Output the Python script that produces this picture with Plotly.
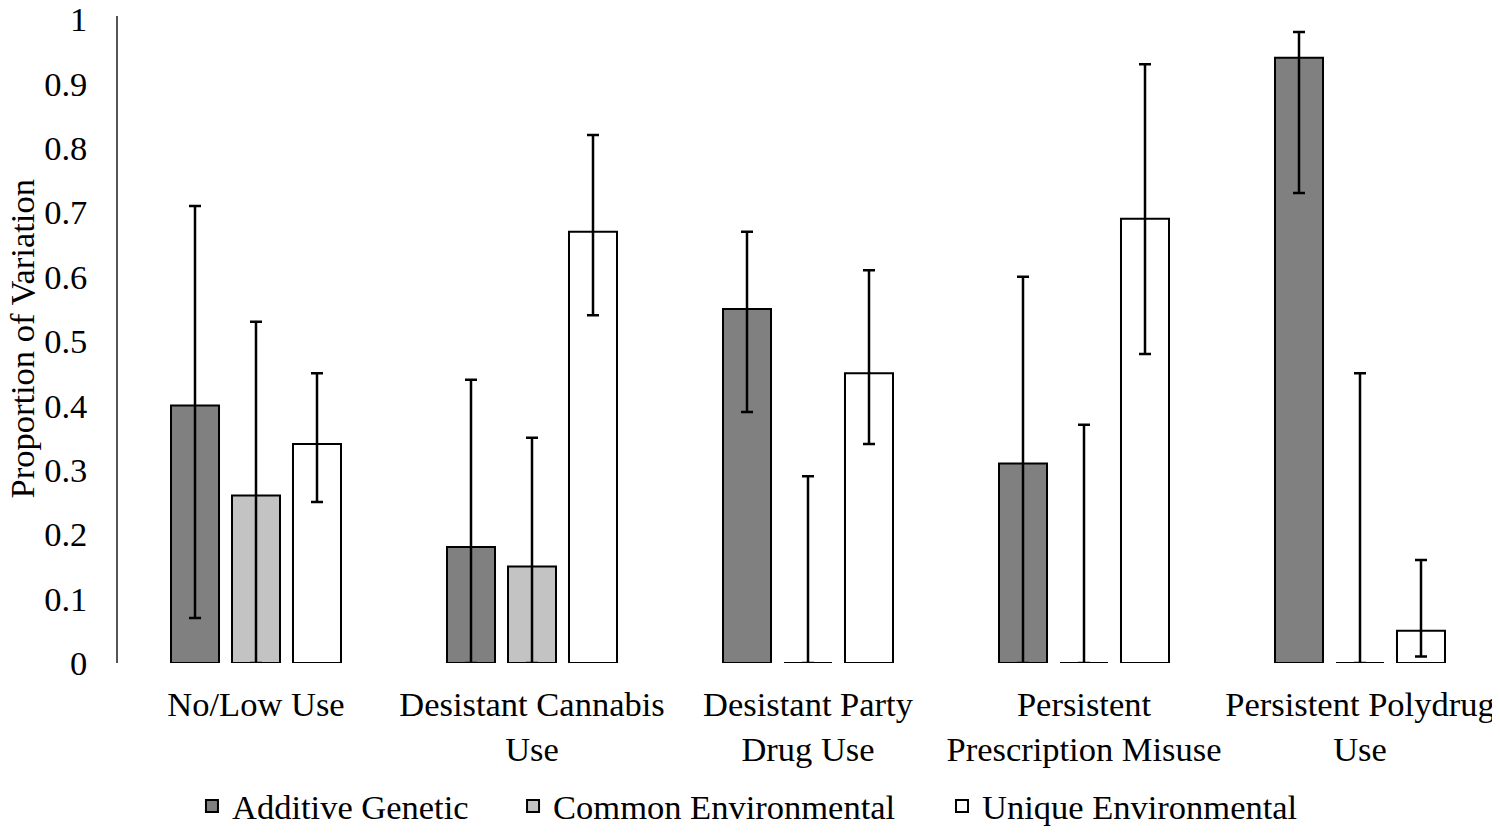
import plotly.graph_objects as go

categories = ["No/Low Use", "Desistant Cannabis<br>Use", "Desistant Party<br>Drug Use",
              "Persistent<br>Prescription Misuse", "Persistent Polydrug<br>Use"]
series_names = ["Additive Genetic", "Common Environmental", "Unique Environmental"]

additive = [0.40, 0.18, 0.55, 0.31, 0.94]
additive_lo = [0.07, 0.00, 0.39, 0.00, 0.73]
additive_hi = [0.71, 0.44, 0.67, 0.60, 0.98]

common = [0.26, 0.15, 0.00, 0.00, 0.00]
common_lo = [0.00, 0.00, 0.00, 0.00, 0.00]
common_hi = [0.53, 0.35, 0.29, 0.37, 0.45]

unique = [0.34, 0.67, 0.45, 0.69, 0.05]
unique_lo = [0.25, 0.54, 0.34, 0.48, 0.01]
unique_hi = [0.45, 0.82, 0.61, 0.93, 0.16]

y_ticks = [0, 0.1, 0.2, 0.3, 0.4, 0.5, 0.6, 0.7, 0.8, 0.9, 1]
y_tick_labels = ["0", "0.1", "0.2", "0.3", "0.4", "0.5", "0.6", "0.7", "0.8", "0.9", "1"]
y_title = "Proportion of Variation"

colors = ["#808080", "#c3c3c3", "#ffffff"]
legend_ids = ["legend", "legend2", "legend3"]
legend_x = [0.1233, 0.3385, 0.6260]
FONT = "Liberation Serif, Times New Roman, serif"
FS = 34.5

fig = go.Figure()
for name, vals, lo, hi, col, lid in zip(series_names,
                                        [additive, common, unique],
                                        [additive_lo, common_lo, unique_lo],
                                        [additive_hi, common_hi, unique_hi],
                                        colors, legend_ids):
    fig.add_trace(go.Bar(
        name=name, x=categories, y=vals, legend=lid,
        marker=dict(color=col, line=dict(color="black", width=2)),
        error_y=dict(type="data", symmetric=False,
                     array=[h - v for h, v in zip(hi, vals)],
                     arrayminus=[v - l for v, l in zip(vals, lo)],
                     color="black", thickness=2.5, width=6),
    ))

legend_common = dict(orientation="h", xref="container", yref="container",
                     y=0.0327, yanchor="middle", xanchor="left",
                     font=dict(size=FS, family=FONT), itemwidth=30, bgcolor="rgba(0,0,0,0)")

# page body has an 8px default margin, so the figure is 8px smaller than the window
fig.update_layout(
    width=1492, height=825,
    margin=dict(l=110, r=2, t=8, b=170),
    paper_bgcolor="white", plot_bgcolor="white",
    barmode="group", bargap=0.337, bargroupgap=0.213,
    font=dict(family=FONT, size=FS, color="black"),
    showlegend=True,
    legend=dict(x=legend_x[0], **legend_common),
    legend2=dict(x=legend_x[1], **legend_common),
    legend3=dict(x=legend_x[2], **legend_common),
    xaxis=dict(showline=False, showgrid=False, zeroline=False, automargin=False,
               ticks="outside", ticklen=11, tickcolor="rgba(0,0,0,0)",
               tickfont=dict(size=FS), ticklabeloverflow="allow"),
    yaxis=dict(range=[0, 1.005], tickvals=y_ticks, ticktext=y_tick_labels, automargin=False,
               showline=True, linecolor="#555555", linewidth=1.5,
               showgrid=False, zeroline=False, ticklabeloverflow="allow",
               ticks="outside", ticklen=22, tickcolor="rgba(0,0,0,0)",
               tickfont=dict(size=FS)),
    annotations=[dict(text=y_title, textangle=-90, xref="paper", yref="paper",
                      x=0, y=0.5, xanchor="center", yanchor="middle", xshift=-97,
                      showarrow=False, font=dict(size=FS, family=FONT))],
)

fig.write_html("out.html")
